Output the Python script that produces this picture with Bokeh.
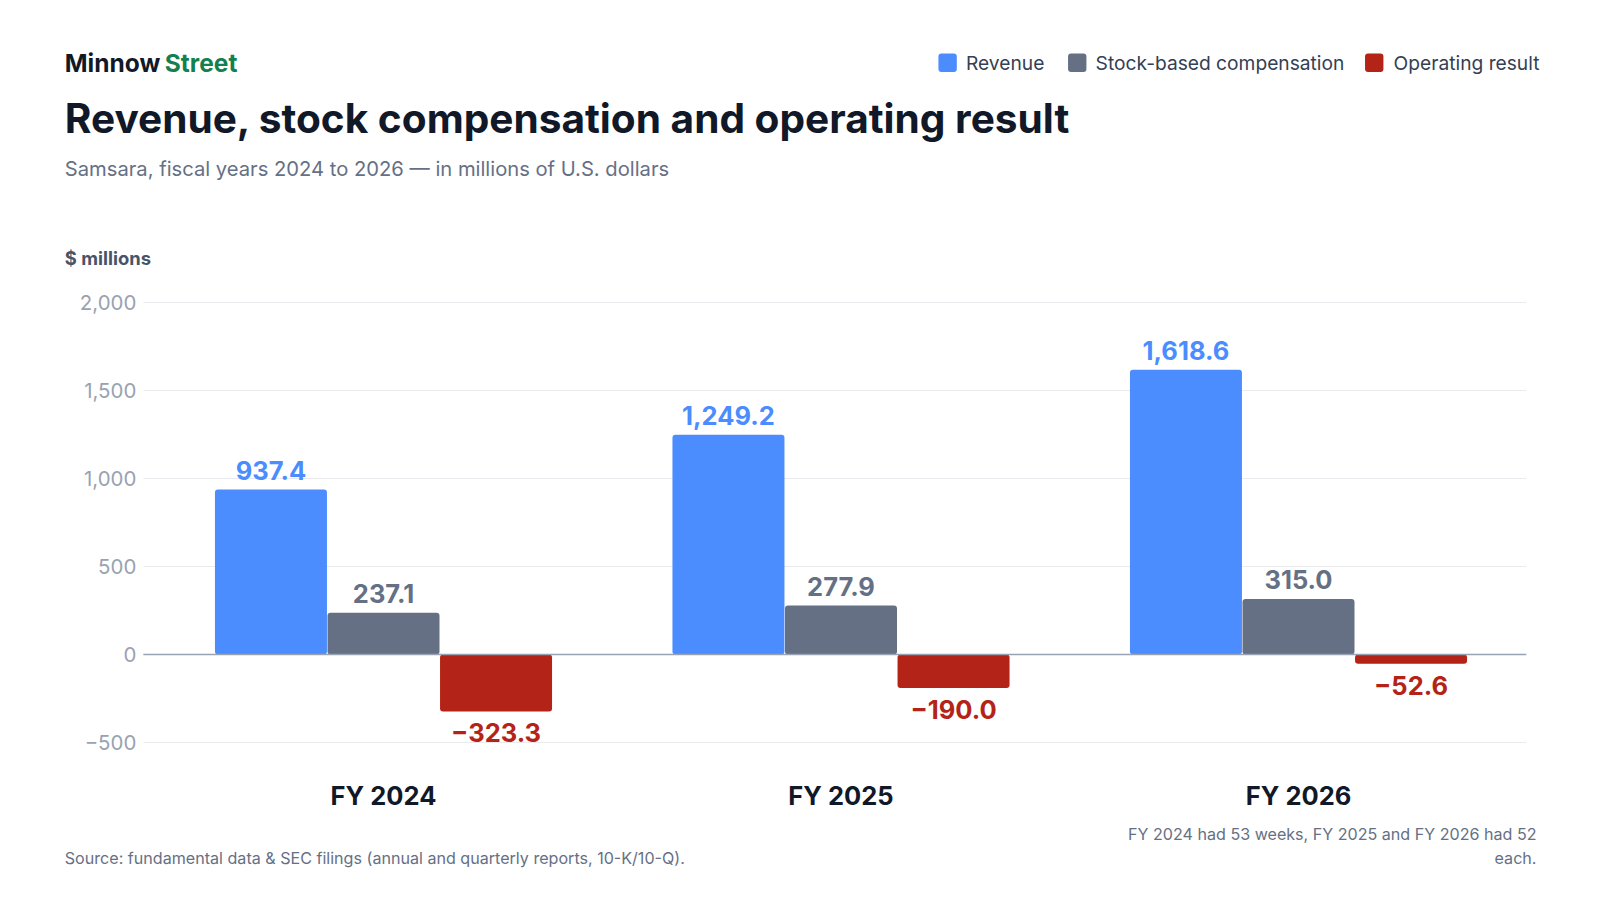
from bokeh.plotting import figure
from bokeh.models import ColumnDataSource, Label, BoxAnnotation
from bokeh.embed import file_html
from bokeh.resources import INLINE

years = ["FY 2024", "FY 2025", "FY 2026"]
revenue = [937.4, 1249.2, 1618.6]
sbc = [237.1, 277.9, 315.0]
op_result = [-323.3, -190.0, -52.6]
series_names = ["Revenue", "Stock-based compensation", "Operating result"]
colors = ["#4b8dff", "#667085", "#b42318"]
yticks = [-500, 0, 500, 1000, 1500, 2000]

W, H = 1584, 884
FONT = "Inter"
K = 1.0206  # layout scale

def px(page_x):
    return (page_x * K - 383) / 457.5

def vy(page_y):
    return (654 - page_y * K) * 500 / 88.0

def fs(n):
    return f"{n * K:.1f}px"

p = figure(width=W, height=H, output_backend="svg", toolbar_location=None,
           x_range=(px(0), px(W / K)), y_range=(vy(H / K), vy(0)),
           min_border=0, min_border_left=0, min_border_right=0, min_border_top=0, min_border_bottom=0)
p.outline_line_color = None
p.axis.visible = False
p.grid.visible = False

gx0, gx1 = px(140), px(1495)
p.segment(x0=[gx0] * len(yticks), x1=[gx1] * len(yticks), y0=yticks, y1=yticks,
          line_color="#e8eaee", line_width=1)
tick_labels = [("\u2212" if t < 0 else "") + f"{abs(t):,}" for t in yticks]
for t, lab in zip(yticks, tick_labels):
    p.add_layout(Label(x=px(133), y=t, text=lab, text_font=FONT, text_font_size=fs(20),
                       text_color="#98a2b3", text_align="right", text_baseline="middle"))

bw = 112 / 457.5
offs = [-0.246, 0.0, 0.246]
for vals, off, col in zip([revenue, sbc, op_result], offs, colors):
    xs = [i + off for i in range(len(years))]
    src = ColumnDataSource(dict(x=xs, top=[max(v, 0) for v in vals], bottom=[min(v, 0) for v in vals]))
    p.vbar(x="x", width=bw, top="top", bottom="bottom", source=src, fill_color=col,
           line_color=None, border_radius=3, level="overlay")
    for x, v in zip(xs, vals):
        lab = ("\u2212" if v < 0 else "") + f"{abs(v):,.1f}"
        p.add_layout(Label(x=x, y=v, text=lab, text_font=FONT, text_font_size=fs(25),
                           text_font_style="bold", text_color=col, text_align="center",
                           text_baseline="bottom" if v >= 0 else "top",
                           y_offset=10 if v >= 0 else -12))
p.segment(x0=[gx0], x1=[gx1], y0=[0], y1=[0], line_color="#98a2b3", line_width=1.5, level="overlay")

for i, y in enumerate(years):
    p.add_layout(Label(x=i, y=vy(779), text=y, text_font=FONT,
                       text_font_size=fs(25), text_font_style="bold", text_color="#111827",
                       text_align="center", text_baseline="middle"))

def slabel(x, y, text, size, color, bold=False, align="left"):
    p.add_layout(Label(x=px(x), y=vy(y), text=text,
                       text_font=FONT, text_font_size=fs(size), text_color=color,
                       text_font_style="bold" if bold else "normal",
                       text_align=align, text_baseline="middle"))

slabel(63, 61, "Minnow", 24, "#111827", True)
slabel(161, 61, "Street", 24, "#13804e", True)
slabel(63, 116, "Revenue, stock compensation and operating result", 39.8, "#111827", True)
slabel(63, 165, "Samsara, fiscal years 2024 to 2026 \u2014 in millions of U.S. dollars", 19.8, "#667085")
slabel(63, 252, "$ millions", 18, "#475467", True)
slabel(63, 840, "Source: fundamental data & SEC filings (annual and quarterly reports, 10-K/10-Q).", 15.8, "#667085")
slabel(1505, 817, "FY 2024 had 53 weeks, FY 2025 and FY 2026 had 52", 15.8, "#667085", align="right")
slabel(1505, 840, "each.", 15.8, "#667085", align="right")

legend = [(928, 946, "Revenue"), (1055, 1073, "Stock-based compensation"), (1346, 1365, "Operating result")]
for (sx, tx, name), col in zip(legend, colors):
    p.add_layout(BoxAnnotation(left=px(sx - 9), right=px(sx + 9), top=vy(52), bottom=vy(70),
                               fill_color=col, fill_alpha=1, line_color=None, border_radius=3))
    slabel(tx, 61, name, 18.8, "#344054")

open("out.html", "w").write(file_html(p, INLINE))
